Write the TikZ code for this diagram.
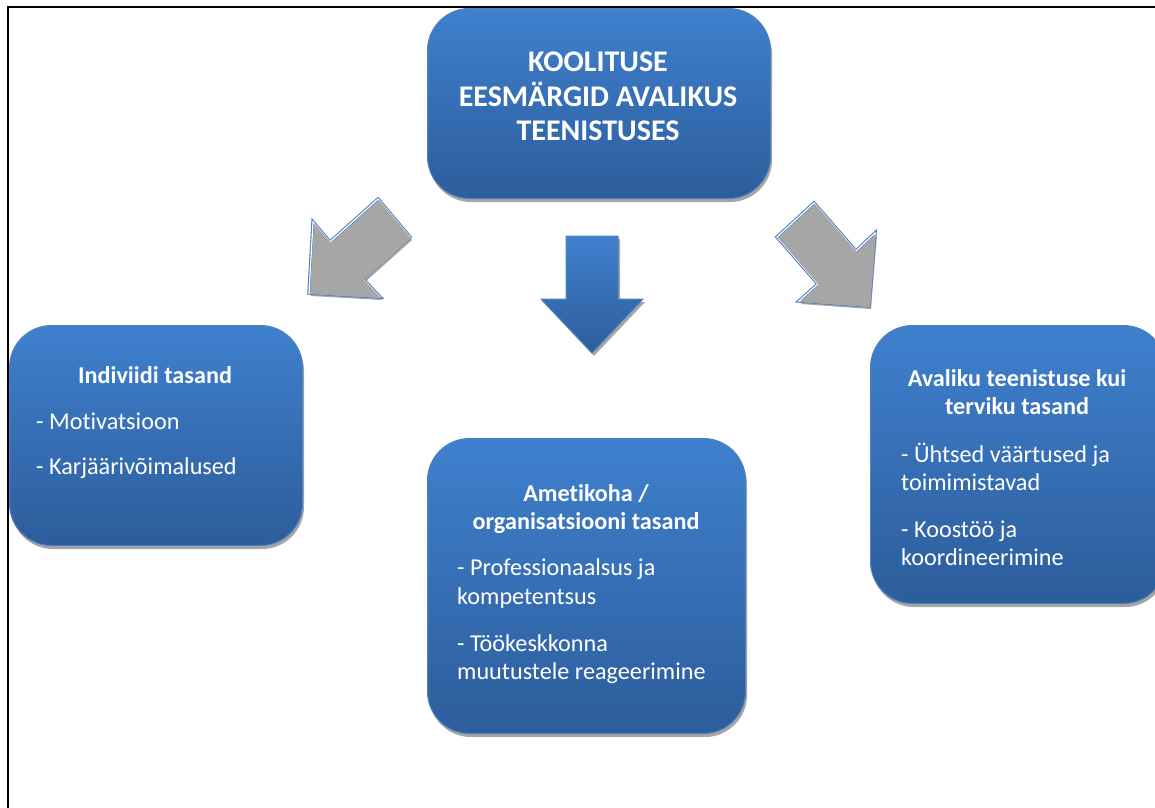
\documentclass[tikz,border=0pt]{standalone}
\usepackage{fontspec}
\setmainfont[RawFeature={-liga;-clig}]{Carlito}
\usetikzlibrary{shadows}
\definecolor{boxtop}{RGB}{63,128,206}
\definecolor{boxbot}{RGB}{45,93,155}
\definecolor{boxline}{RGB}{79,129,189}
\definecolor{arrowgrey}{RGB}{166,166,166}
\definecolor{shadowgrey}{RGB}{165,165,165}
\begin{document}
\begin{tikzpicture}[x=1pt,y=-1pt,
  box/.style={rounded corners=42pt, draw=boxline, line width=1pt,
    top color=boxtop, bottom color=boxbot, inner sep=0pt, anchor=north west,
    drop shadow={shadow xshift=1.5pt, shadow yshift=-3.5pt, fill=shadowgrey, opacity=1}},
  txt/.style={text=white, font=\fontsize{24.2}{29}\selectfont, inner sep=0pt, anchor=base west},
  hd/.style={text=white, font=\fontsize{24.2}{29}\selectfont\bfseries, inner sep=0pt, anchor=base},
  ttl/.style={text=white, font=\fontsize{30}{35}\selectfont\bfseries, inner sep=0pt, anchor=base},
  arrowshadow/.style={fill=shadowgrey},
  arrowedge/.style={draw=boxline, line width=3.4pt, line join=miter},
  arrowlight/.style={draw=white, line width=1.2pt, line join=miter},
  arrowbody/.style={fill=arrowgrey}]
\useasboundingbox (0,0) rectangle (1155,807);
\begin{scope}
\clip (0,0) rectangle (1155,807);
% frame
\draw[line width=2pt] (8,830) -- (8,7) -- (1180,7);

% boxes
\node[box, minimum width=343pt, minimum height=190pt] (topbox) at (427,8) {};
\node[box, minimum width=293pt, minimum height=220pt] (leftbox) at (9,325) {};
\node[box, minimum width=318pt, minimum height=295pt] (midbox) at (427,438) {};
\node[box, minimum width=295pt, minimum height=278pt] (rightbox) at (870,325) {};

% grey arrow left
\def\larrow{(313,222) -- (330,242) -- (378,199) -- (410,237) -- (363,279) -- (380,297) -- (309,293) -- cycle}
\fill[arrowshadow, shift={(2,3)}] \larrow;
\draw[arrowedge] \larrow;
\draw[arrowlight] \larrow;
\fill[arrowbody, shift={(1,1)}] \larrow;

% grey arrow right
\def\rarrow{(814,203) -- (777,237) -- (818,284) -- (799,301) -- (869,306) -- (875,233) -- (856,251) -- cycle}
\fill[arrowshadow, shift={(2,3)}] \rarrow;
\draw[arrowedge] \rarrow;
\draw[arrowlight] \rarrow;
\fill[arrowbody, shift={(1,1)}] \rarrow;

% blue arrow center
\def\carrow{(566,236) -- (618,236) -- (618,299) -- (643,299) -- (592,353) -- (541,299) -- (566,299) -- cycle}
\fill[shadowgrey, shift={(2,3)}] \carrow;
\shade[top color=boxtop, bottom color=boxbot, draw=boxline, line width=1pt] \carrow;

% texts top
\node[ttl] (t1) at (598,71) {KOOLITUSE};
\node[ttl] (t2) at (598,106) {EESMÄRGID AVALIKUS};
\node[ttl] (t3) at (598,140) {TEENISTUSES};

% left
\node[hd] (l1) at (155,383) {Indiviidi tasand};
\node[txt] (l2) at (36,429) {- Motivatsioon};
\node[txt] (l3) at (36,474) {- Karjäärivõimalused};

% middle
\node[hd] (m1) at (586,501) {Ametikoha /};
\node[hd] (m2) at (586,529) {organisatsiooni tasand};
\node[txt] (m3) at (457,575) {- Professionaalsus ja};
\node[txt] (m4) at (457,604) {kompetentsus};
\node[txt] (m5) at (457,651) {- Töökeskkonna};
\node[txt] (m6) at (457,679) {muutustele reageerimine};

% right
\node[hd] (r1) at (1017,386) {Avaliku teenistuse kui};
\node[hd] (r2) at (1017,414) {terviku tasand};
\node[txt] (r3) at (901,462) {- Ühtsed väärtused ja};
\node[txt] (r4) at (901,490) {toimimistavad};
\node[txt] (r5) at (901,537) {- Koostöö ja};
\node[txt] (r6) at (901,565) {koordineerimine};
\end{scope}
\end{tikzpicture}
\end{document}
